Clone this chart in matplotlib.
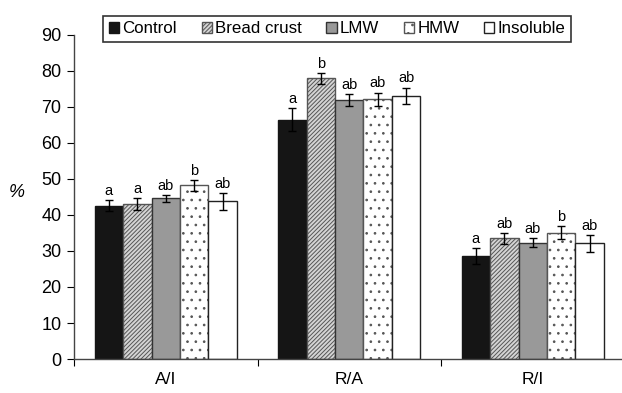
import numpy as np
import matplotlib
matplotlib.use("Agg")
import matplotlib.pyplot as plt

plt.rcParams['font.family'] = ['Liberation Sans', 'DejaVu Sans']
plt.rcParams['hatch.linewidth'] = 0.7

# ratios on the x axis
categories = ['A/I', 'R/A', 'R/I']
series = ['Control', 'Bread crust', 'LMW', 'HMW', 'Insoluble']

# mean values (%) per series, one per category
control = [42.6, 66.4, 28.6]
bread_crust = [43.0, 78.0, 33.5]
lmw = [44.6, 71.9, 32.3]
hmw = [48.3, 72.1, 35.1]
insoluble = [43.8, 73.1, 32.1]

# error bars
control_err = [1.6, 3.2, 2.1]
bread_crust_err = [1.6, 1.5, 1.5]
lmw_err = [1.0, 1.6, 1.3]
hmw_err = [1.5, 1.9, 1.8]
insoluble_err = [2.4, 2.3, 2.3]

# significance letters
control_sig = ['a', 'a', 'a']
bread_crust_sig = ['a', 'b', 'ab']
lmw_sig = ['ab', 'ab', 'ab']
hmw_sig = ['b', 'ab', 'b']
insoluble_sig = ['ab', 'ab', 'ab']

values = [control, bread_crust, lmw, hmw, insoluble]
errors = [control_err, bread_crust_err, lmw_err, hmw_err, insoluble_err]
letters = [control_sig, bread_crust_sig, lmw_sig, hmw_sig, insoluble_sig]

# bar styles: facecolor, hatch, edgecolor
styles = [
    ('#151515', None, '#151515'),
    ('#d4d4d4', '////////', '#555555'),
    ('#999999', None, '#333333'),
    ('white', '..', '#555555'),
    ('white', None, '#222222'),
]

fig = plt.figure(figsize=(6.22, 3.93), dpi=100)
ax = fig.add_axes([0.119, 0.0865, 0.885, 0.8245])

x = np.arange(len(categories)) + 0.5
width = 0.155
offsets = (np.arange(len(series)) - 2) * width

bars = []
for i, name in enumerate(series):
    fc, hatch, ec = styles[i]
    b = ax.bar(x + offsets[i], values[i], width, color=fc, hatch=hatch,
               edgecolor=ec, linewidth=1.0, label=name, zorder=2)
    bars.append(b)
    ax.errorbar(x + offsets[i], values[i], yerr=errors[i], fmt='none',
                ecolor='black', elinewidth=1.0, capsize=3, capthick=1.0, zorder=3)
    for xi, v, e, s in zip(x + offsets[i], values[i], errors[i], letters[i]):
        ax.text(xi, v + e + 0.6, s, ha='center', va='bottom', fontsize=10.5)

ax.set_xlim(0, 3)
ax.set_ylim(0, 90)
ax.set_yticks(np.arange(0, 91, 10))
ax.tick_params(axis='y', direction='out', length=5, labelsize=13, pad=4)

ax.set_xticks([0, 1, 2, 3])
ax.set_xticklabels([])
ax.tick_params(axis='x', which='major', direction='out', length=5)
ax.set_xticks(x, minor=True)
ax.set_xticklabels(categories, minor=True)
ax.tick_params(axis='x', which='minor', length=0, labelsize=12.5, pad=9)

for s in ['top', 'right']:
    ax.spines[s].set_visible(False)
for s in ['left', 'bottom']:
    ax.spines[s].set_color('#444444')
    ax.spines[s].set_linewidth(1.0)

ax.set_ylabel('%', fontsize=13, style='italic', rotation=0, va='center', ha='center')
ax.yaxis.set_label_coords(-0.104, 0.515)

leg = fig.legend(handles=bars, labels=series, loc='upper center',
                 bbox_to_anchor=(0.542, 0.982), ncol=5, fontsize=12.2,
                 frameon=True, fancybox=False, edgecolor='black',
                 handlelength=0.6, handleheight=0.6, handletextpad=0.2,
                 columnspacing=1.45, borderpad=0.35)
leg.get_frame().set_linewidth(1.2)

fig.savefig('out.png', dpi=100)
